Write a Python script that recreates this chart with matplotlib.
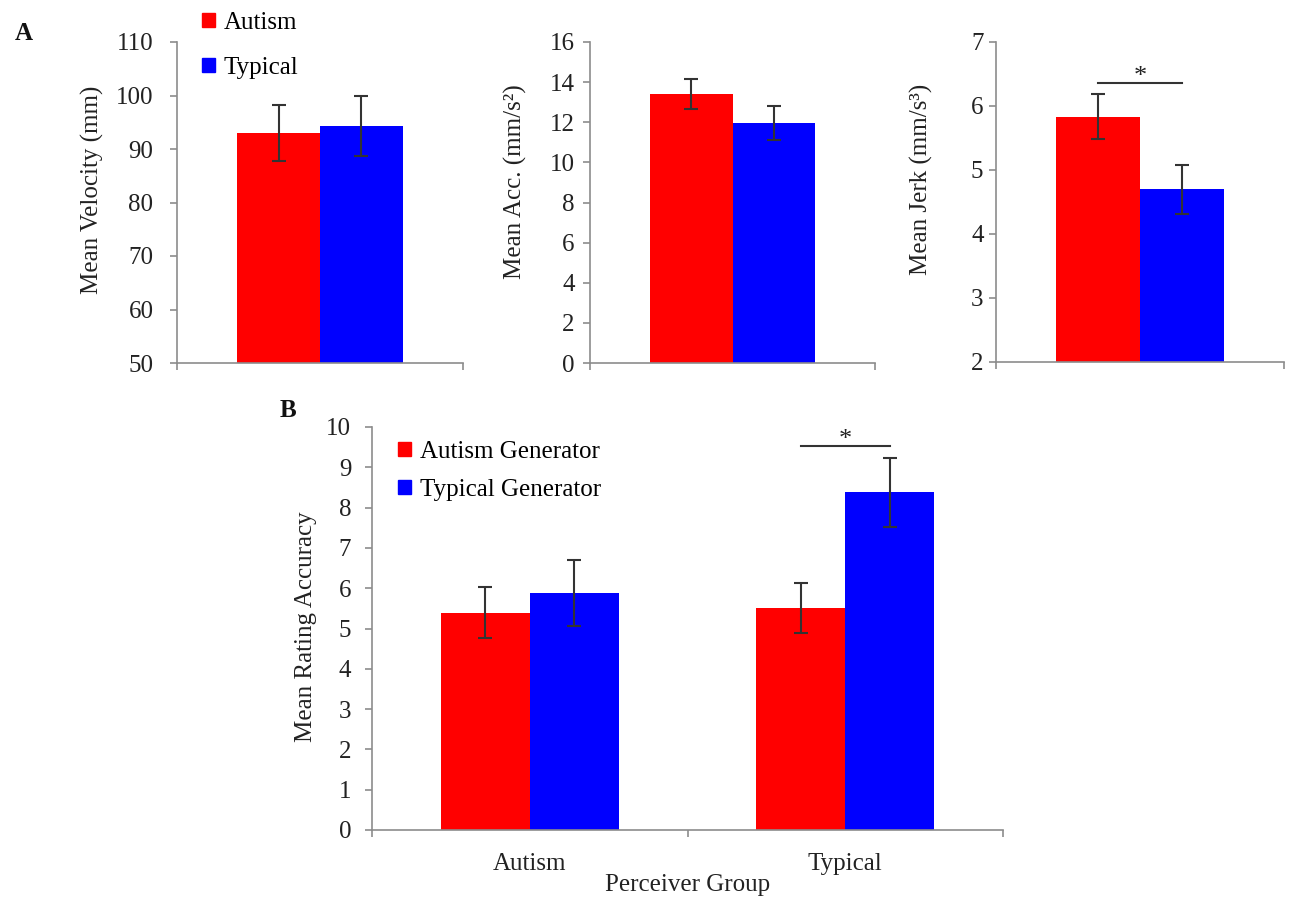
import numpy as np
import matplotlib
matplotlib.use('Agg')
import matplotlib.pyplot as plt
from matplotlib.patches import Patch

# groups and colours
groups = ['Autism', 'Typical']
colors = ['#ff0000', '#0000ff']

# panel A: movement kinematics, (autism, typical)
velocity = [93.0, 94.3]
velocity_err = [5.2, 5.6]
acc = [13.4, 11.95]
acc_err = [0.75, 0.85]
jerk = [5.83, 4.70]
jerk_err = [0.35, 0.38]

# panel B: rating accuracy for each perceiver group
perceivers = ['Autism', 'Typical']
gen_labels = ['Autism Generator', 'Typical Generator']
autism_gen = [5.39, 5.51]
autism_gen_err = [0.63, 0.62]
typical_gen = [5.89, 8.38]
typical_gen_err = [0.82, 0.86]

plt.rcParams['font.family'] = ['Liberation Serif', 'DejaVu Serif']
plt.rcParams['font.size'] = 18

W, H = 1293, 899
fig = plt.figure(figsize=(W / 100, H / 100), dpi=100)

AXC = '#8c8c8c'
TXT = '#222222'
err_kw = dict(ecolor='#333333', elinewidth=1.5, capthick=1.5)


def px_axes(x0, y0, x1, y1):
    # place an axes by its pixel box (left, top, right, bottom)
    return fig.add_axes([x0 / W, 1 - y1 / H, (x1 - x0) / W, (y1 - y0) / H])


def style(ax, ypad):
    for s in ['top', 'right']:
        ax.spines[s].set_visible(False)
    for s in ['left', 'bottom']:
        ax.spines[s].set_color(AXC)
        ax.spines[s].set_linewidth(1.2)
    ax.tick_params(axis='y', direction='out', length=5, width=1.2, color=AXC,
                   pad=ypad, labelsize=18, labelcolor=TXT)


def sig_bar(ax, x1, x2, top, frac):
    lo, hi = ax.get_ylim()
    y = top + frac * (hi - lo)
    ax.plot([x1, x2], [y, y], color='#333333', lw=1.5)
    ax.text((x1 + x2) / 2, y, '*', ha='center', va='baseline', fontsize=19, color=TXT)


def kin_panel(box, vals, errs, ylim, step, ylabel, ypad, lab_xy, sig=False):
    ax = px_axes(*box)
    w = 0.29
    xs = np.array([-w / 2, w / 2])
    ax.bar(xs, vals, width=w, color=colors, yerr=errs, capsize=5, error_kw=err_kw)
    ax.set_xlim(-0.5, 0.5)
    ax.set_ylim(*ylim)
    ax.set_yticks(np.arange(ylim[0], ylim[1] + step / 2, step))
    ax.set_xticks([-0.5, 0.5])
    ax.set_xticklabels([])
    style(ax, ypad)
    ax.tick_params(axis='x', direction='out', length=5, width=1.2, color=AXC)
    ax.set_ylabel(ylabel, fontsize=18, color=TXT)
    ax.yaxis.set_label_coords(*lab_xy)
    if sig:
        top = max(v + e for v, e in zip(vals, errs))
        sig_bar(ax, xs[0], xs[1], top, 0.036)
    return ax


ax1 = kin_panel((177, 42, 463, 363), velocity, velocity_err, (50, 110), 10,
                'Mean Velocity (mm)', 12, (-0.255, 0.54))
ax2 = kin_panel((590, 42, 875, 363), acc, acc_err, (0, 16), 2,
                'Mean Acc. (mm/s²)', 6, (-0.221, 0.565))
ax3 = kin_panel((996, 42, 1284, 362), jerk, jerk_err, (2, 7), 1,
                'Mean Jerk (mm/s³)', 4, (-0.219, 0.57), sig=True)

handles = [Patch(color=c) for c in colors]
fig.legend(handles, groups, loc='upper left', bbox_to_anchor=(202 / W, 1 - 12 / H),
           frameon=False, handlelength=0.52, handleheight=0.45, handletextpad=0.35,
           labelspacing=0.92, borderpad=0, borderaxespad=0, fontsize=18)

# panel B
axb = px_axes(372, 427, 1003, 830)
w = 0.282
x = np.arange(len(perceivers))
axb.bar(x - w / 2, autism_gen, width=w, color=colors[0], yerr=autism_gen_err,
        capsize=5, error_kw=err_kw)
axb.bar(x + w / 2, typical_gen, width=w, color=colors[1], yerr=typical_gen_err,
        capsize=5, error_kw=err_kw)
axb.set_xlim(-0.5, 1.5)
axb.set_ylim(0, 10)
axb.set_yticks(np.arange(0, 11, 1))
style(axb, 10)
axb.set_xticks(x)
axb.set_xticklabels(perceivers)
axb.tick_params(axis='x', which='major', length=0, pad=16.5, labelsize=18, labelcolor=TXT)
axb.set_xticks([-0.5, 0.5, 1.5], minor=True)
axb.tick_params(axis='x', which='minor', direction='out', length=5, width=1.2, color=AXC)
axb.set_ylabel('Mean Rating Accuracy', fontsize=18, color=TXT)
axb.yaxis.set_label_coords(-0.087, 0.504)
axb.set_xlabel('Perceiver Group', fontsize=18, color=TXT)
axb.xaxis.set_label_coords(0.5, -0.11)
sig_bar(axb, x[1] - w / 2, x[1] + w / 2, typical_gen[1] + typical_gen_err[1], 0.029)

fig.legend([Patch(color=c) for c in colors], gen_labels, loc='upper left',
           bbox_to_anchor=(398 / W, 1 - 441 / H), frameon=False, handlelength=0.52,
           handleheight=0.45, handletextpad=0.35, labelspacing=0.64, borderpad=0,
           borderaxespad=0, fontsize=18)

fig.text(15 / W, 1 - 40 / H, 'A', fontsize=18, fontweight='bold', va='baseline', color='#111111')
fig.text(280 / W, 1 - 417 / H, 'B', fontsize=18, fontweight='bold', va='baseline', color='#111111')

fig.savefig('out.png', dpi=100)
